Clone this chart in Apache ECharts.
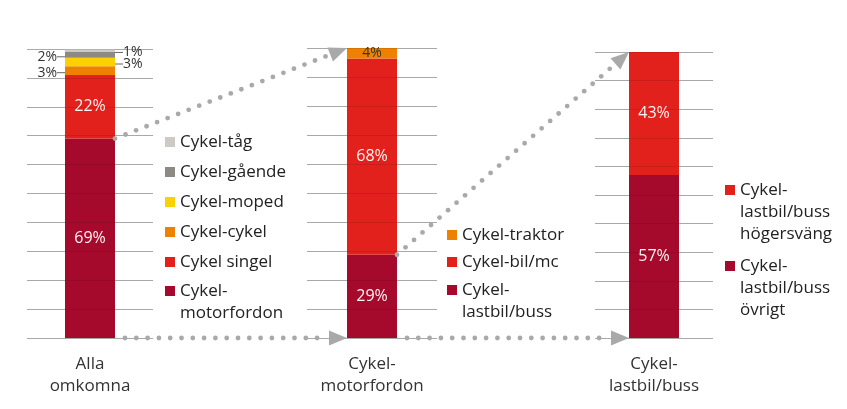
<!DOCTYPE html>
<html><head><meta charset="utf-8">
<script src="https://cdn.jsdelivr.net/npm/echarts@6/dist/echarts.min.js"></script>
<style>html,body{margin:0;padding:0;background:#fff}#c{width:847px;height:409px}</style>
</head><body><div id="c"></div>
<script>
// ---- data ----
const categories = ['Alla\nomkomna', 'Cykel-\nmotorfordon', 'Cykel-\nlastbil/buss'];
const allaNames = ['Cykel-\nmotorfordon', 'Cykel singel', 'Cykel-cykel', 'Cykel-moped', 'Cykel-gående', 'Cykel-tåg'];
const allaValues = [69, 22, 3, 3, 2, 1];
const motorNames = ['Cykel-\nlastbil/buss', 'Cykel-bil/mc', 'Cykel-traktor'];
const motorValues = [28.7, 67.7, 3.6];
const lastbilNames = ['Cykel-\nlastbil/buss\növrigt', 'Cykel-\nlastbil/buss\nhögersväng'];
const lastbilValues = [57, 43];
const yTicks = [0, 10, 20, 30, 40, 50, 60, 70, 80, 90, 100];

// ---- styles ----
const FONT = 'Open Sans';
const DARK = '#a50a2d', RED = '#e2211c', ORANGE = '#ee8100', YELLOW = '#fdd100', GREY = '#8d8984', LIGHT = '#cdc9c4';
const allaColors = [DARK, RED, ORANGE, YELLOW, GREY, LIGHT];
const motorColors = [DARK, RED, ORANGE];
const lastbilColors = [DARK, RED];
const BAR_W = 50;
const LH = 22;
const pct = p => Math.round(p.value) + '%';

const inside = {show: true, position: 'inside', color: '#fff5f3', fontSize: 16, fontFamily: FONT, formatter: pct};
const insideDark = {show: true, position: 'inside', color: '#333', fontSize: 14, fontFamily: FONT, formatter: pct};
const smallRich = {
  t: {fontSize: 14, color: '#333', fontFamily: FONT},
  l: {width: 8, height: 1, backgroundColor: '#666'}
};
const smallLeft = {show: true, position: 'left', distance: 0, offset: [0, 2], formatter: p => '{t|' + pct(p) + '}{l|}', rich: smallRich};
const smallRight = {show: true, position: 'right', distance: 0, offset: [0, 2], formatter: p => '{l|}{t|' + pct(p) + '}', rich: smallRich};
const allaLabels = [inside, inside, smallLeft, smallRight, smallLeft, smallRight];
const motorLabels = [inside, inside, insideDark];
const lastbilLabels = [inside, inside];

const grids = [
  {left: 27, width: 126, top: 49, bottom: 71},
  {left: 307, width: 130, top: 48, bottom: 71},
  {left: 595, width: 118, top: 52, bottom: 71}
];

const xAxes = categories.map((c, i) => ({
  type: 'category', gridIndex: i, data: [c],
  axisLine: {show: false}, axisTick: {show: false},
  axisLabel: {color: '#333', fontSize: 17, fontFamily: FONT, lineHeight: LH, margin: 15}
}));
const yBase = i => ({
  type: 'value', gridIndex: i, min: yTicks[0], max: yTicks[yTicks.length - 1], interval: yTicks[1] - yTicks[0],
  axisLine: {show: false}, axisTick: {show: false}, axisLabel: {show: false}
});
const yAxes = [];
[0, 1, 2].forEach(i => yAxes.push(Object.assign(yBase(i), {splitLine: {lineStyle: {color: '#bcbcbc', width: 1}}})));
[0, 1, 2].forEach(i => yAxes.push(Object.assign(yBase(i), {z: 5, splitLine: {lineStyle: {color: 'rgba(0,0,0,0.1)', width: 1}}})));

const series = [];
function addGroup(names, values, colors, labels, gi) {
  names.forEach((n, k) => {
    series.push({
      type: 'bar', name: n, stack: 's' + gi, xAxisIndex: gi, yAxisIndex: gi,
      barWidth: BAR_W, data: [values[k]],
      itemStyle: {color: colors[k]}, label: labels[k],
      emphasis: {disabled: true}
    });
  });
}
addGroup(allaNames, allaValues, allaColors, allaLabels, 0);
addGroup(motorNames, motorValues, motorColors, motorLabels, 1);
addGroup(lastbilNames, lastbilValues, lastbilColors, lastbilLabels, 2);

// legend: multi-line entries get leading blank lines so that the first line sits beside the square
function legend(names, left, top, gap) {
  return {
    orient: 'vertical', left: left, top: top, itemGap: gap, padding: 0,
    itemWidth: 10, itemHeight: 10, icon: 'rect', selectedMode: false,
    textStyle: {fontFamily: FONT, fontSize: 17, color: '#222', lineHeight: LH},
    formatter: n => '\n'.repeat(n.split('\n').length - 1) + n,
    data: names
  };
}
const legendTop = (centre, name) => centre - (2 * name.split('\n').length - 1) * LH / 2;

const option = {
  animation: false,
  backgroundColor: '#fff',
  grid: grids,
  xAxis: xAxes,
  yAxis: yAxes,
  legend: [
    legend(allaNames.slice(1).reverse(), 165, 131, 8),
    legend([allaNames[0]], 165, legendTop(291, allaNames[0]), 8),
    legend(motorNames.slice(1).reverse(), 447, 224, 5),
    legend([motorNames[0]], 447, legendTop(290, motorNames[0]), 5),
    legend([lastbilNames[1]], 725, legendTop(190, lastbilNames[1]), 5),
    legend([lastbilNames[0]], 725, legendTop(266, lastbilNames[0]), 5)
  ],
  series: series
};

const chart = echarts.init(document.getElementById('c'), null, {renderer: 'canvas'});
chart.setOption(option);

// ---- dotted arrows, positioned through the chart's own scales ----
const ARROW = '#a9a9a9';
function px(gi, v) { return chart.convertToPixel({gridIndex: gi}, [categories[gi], v]); }
function arrow(from, to, startOffset) {
  const els = [];
  const dx = to[0] - from[0], dy = to[1] - from[1];
  const len = Math.sqrt(dx * dx + dy * dy);
  const ux = dx / len, uy = dy / len;
  const head = 18, half = 7.5, step = 11.3;
  for (let s = startOffset; s <= len - head - 3; s += step) {
    els.push({type: 'circle', z: 10, shape: {cx: from[0] + ux * s, cy: from[1] + uy * s, r: 2.4}, style: {fill: ARROW}, silent: true});
  }
  const bx = to[0] - ux * head, by = to[1] - uy * head;
  els.push({type: 'polygon', z: 10, silent: true, shape: {points: [[to[0], to[1]], [bx - uy * half, by + ux * half], [bx + uy * half, by - ux * half]]}, style: {fill: ARROW}});
  return els;
}
const hw = BAR_W / 2;
const b0 = px(0, 0), b1 = px(1, 0), b2 = px(2, 0);
const top0 = px(0, allaValues[0]);
const top1 = px(1, motorValues[0]);
const full1 = px(1, 100), full2 = px(2, 100);
let g = [];
g = g.concat(arrow([top0[0] + hw, top0[1]], [full1[0] - hw, full1[1]], 0));
g = g.concat(arrow([top1[0] + hw, top1[1]], [full2[0] - hw, full2[1]], 0));
g = g.concat(arrow([b0[0] + hw, b0[1]], [b1[0] - hw, b1[1]], 10));
g = g.concat(arrow([b1[0] + hw, b1[1]], [b2[0] - hw, b2[1]], 10));
chart.setOption({graphic: g});
</script></body></html>
